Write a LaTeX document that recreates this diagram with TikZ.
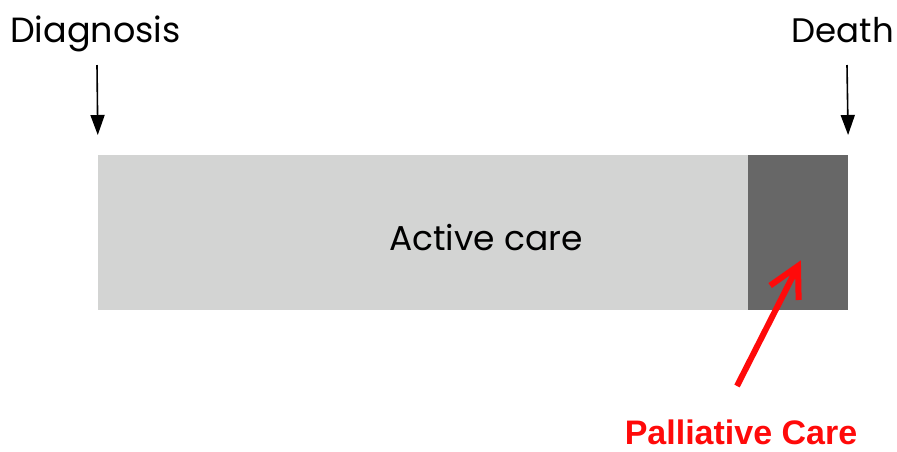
\documentclass[tikz,border=0pt]{standalone}
\usepackage{fontspec}
\setmainfont{Poppins}
\newfontfamily\labelfont{Liberation Sans}
\usetikzlibrary{arrows.meta,calc}
\definecolor{activegray}{HTML}{D3D4D3}
\definecolor{palliativegray}{HTML}{676767}
\definecolor{alertred}{HTML}{FF0A0A}
\begin{document}
\begin{tikzpicture}[x=1pt,y=-1pt,
  timelabel/.style={inner sep=0pt, font=\fontsize{35}{38}\selectfont},
  eventarrow/.style={line width=1.6pt, shorten >=20pt, -{Triangle[length=20pt,width=14pt]}},
  phase/.style={draw=none, inner sep=0pt},
  pointer/.style={draw=alertred, line width=6pt, line join=miter}]
  \useasboundingbox (0,0) rectangle (897,451);
  \fill[white] (0,0) rectangle (897,451);

  % timeline bar
  \node[phase, fill=activegray, minimum width=650pt, minimum height=155pt, anchor=north west]
    (active) at (98,155) {};
  \node[phase, fill=palliativegray, minimum width=100pt, minimum height=155pt, anchor=north west]
    (palliative) at (748,155) {};
  \node[timelabel, font=\fontsize{34.5}{38}\selectfont] (activetext) at (486,238) {Active care};

  % events
  \node[timelabel, anchor=base west] (diagnosis) at (10,42) {Diagnosis};
  \node[timelabel, anchor=base east, font=\fontsize{34}{38}\selectfont] (death) at (894,42) {Death};
  \coordinate (dgtop) at (97,65);
  \coordinate (dttop) at (847,65);
  \draw[eventarrow] (dgtop) -- (active.north west);
  \draw[eventarrow] (dttop) -- (palliative.north east);

  % palliative care annotation: thick shaft with an open head of equal stroke
  \node[inner sep=0pt, anchor=base, text=alertred, font=\labelfont\bfseries\fontsize{34}{38}\selectfont]
    (pclabel) at (741,444) {Palliative Care};
  \coordinate (pcfrom) at (737,386);
  \coordinate (pcto) at (798,266);
  \draw[pointer, shorten >=3pt] (pcfrom) -- (pcto);
  \draw[pointer] ($(pcto)!34pt!28:(pcfrom)$) -- (pcto) -- ($(pcto)!34pt!-28:(pcfrom)$);
\end{tikzpicture}
\end{document}
